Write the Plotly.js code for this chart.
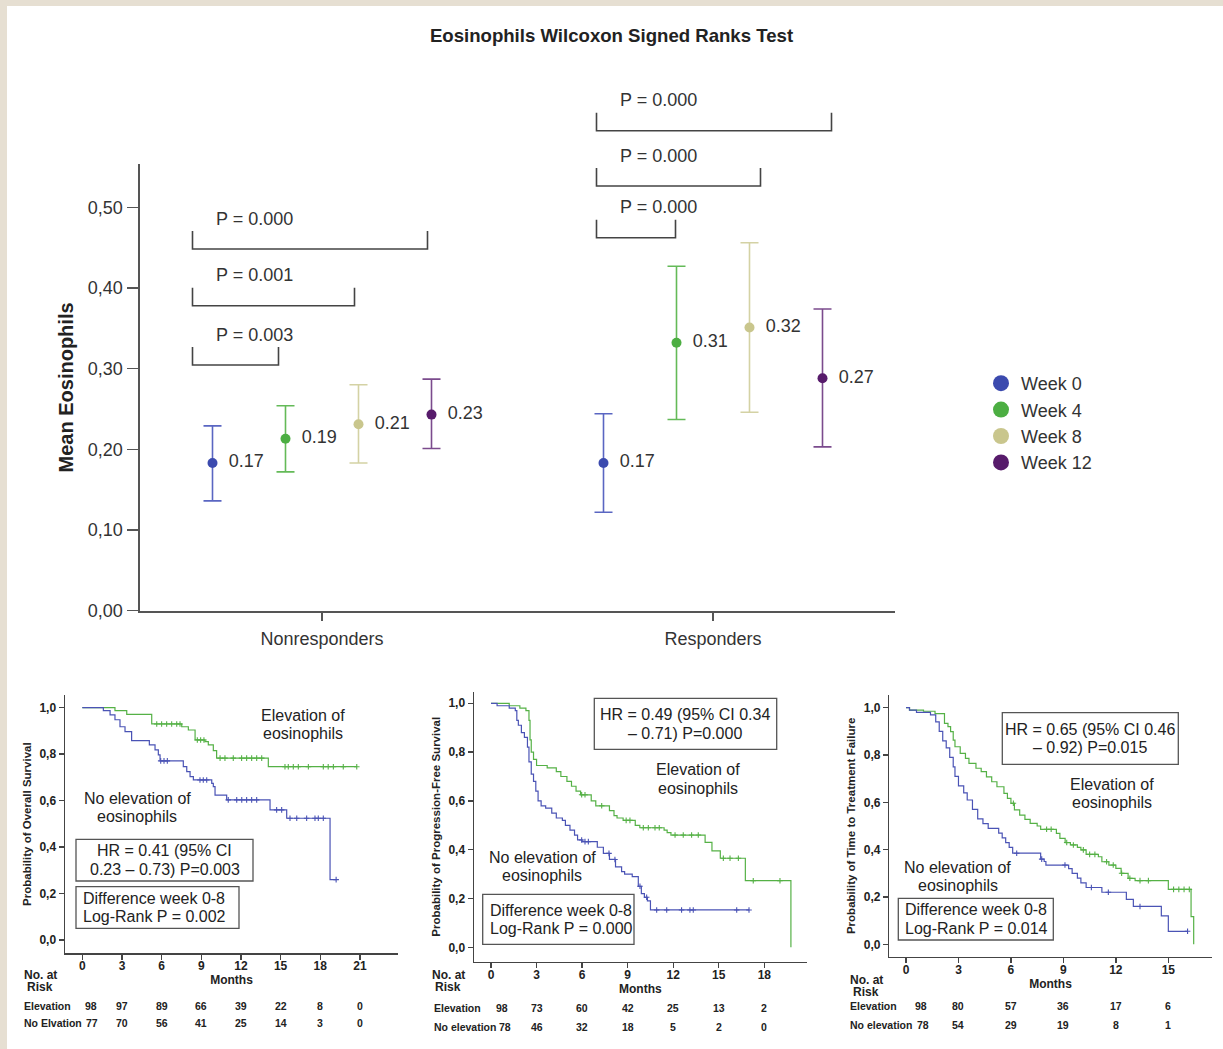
<!DOCTYPE html>
<html>
<head>
<meta charset="utf-8">
<script src="https://cdn.plot.ly/plotly-3.0.1.min.js"></script>
<style>
html, body { margin: 0; padding: 0; background: #ffffff; }
#chart { width: 1223px; height: 1049px; }
</style>
</head>
<body>
<div id="chart"></div>
<script>
// ===================== DATA =====================
// Top chart: mean eosinophils with 95% CI
const groups = ['Nonresponders', 'Responders'];
const weeks = ['Week 0', 'Week 4', 'Week 8', 'Week 12'];
const meanNonresp  = [0.183, 0.213, 0.231, 0.243];
const lowerNonresp = [0.136, 0.172, 0.183, 0.201];
const upperNonresp = [0.229, 0.254, 0.280, 0.287];
const meanResp     = [0.183, 0.332, 0.351, 0.288];
const lowerResp    = [0.122, 0.237, 0.246, 0.203];
const upperResp    = [0.244, 0.427, 0.456, 0.374];
const labelNonresp = ['0.17', '0.19', '0.21', '0.23'];
const labelResp    = ['0.17', '0.31', '0.32', '0.27'];
// Wilcoxon p-values, week 0 vs week 4 / 8 / 12
const pNonresp = ['P = 0.003', 'P = 0.001', 'P = 0.000'];
const pResp    = ['P = 0.000', 'P = 0.000', 'P = 0.000'];
const meanTickVals = [0, 0.1, 0.2, 0.3, 0.4, 0.5];
const meanTickText = ['0,00', '0,10', '0,20', '0,30', '0,40', '0,50'];

// Kaplan-Meier: Overall survival
const osElevT = [0, 2.47, 3.36, 5.25, 7.52, 8.02, 8.53, 9.28, 9.53, 9.91, 10.16, 14.07, 20.76];
const osElevS = [1.0, 0.987, 0.971, 0.93, 0.918, 0.904, 0.861, 0.854, 0.84, 0.815, 0.783, 0.746, 0.746];
const osElevCens = [5.63, 6.0, 6.38, 6.76, 7.14, 7.39, 8.7, 8.95, 9.2, 10.42, 10.79, 11.42, 12.05, 12.43, 12.81, 13.19, 13.57, 15.33, 15.58, 15.96, 16.34, 17.1, 18.23, 18.6, 18.99, 19.74, 20.76];
const osNoT = [0, 1.59, 2.10, 2.47, 2.85, 3.23, 3.73, 5.07, 5.50, 5.75, 5.88, 7.64, 7.90, 8.15, 8.40, 9.79, 9.91, 10.04, 10.92, 14.20, 15.46, 18.74, 19.2];
const osNoS = [1.0, 0.987, 0.969, 0.948, 0.918, 0.897, 0.858, 0.84, 0.818, 0.797, 0.771, 0.746, 0.725, 0.703, 0.689, 0.674, 0.66, 0.624, 0.603, 0.56, 0.524, 0.26, 0.26];
const osNoCens = [5.93, 6.18, 6.43, 8.9, 9.15, 9.41, 11.04, 11.68, 12.06, 12.43, 12.81, 13.19, 14.7, 15.08, 15.71, 16.22, 16.97, 17.6, 17.85, 18.23, 19.2];

// Kaplan-Meier: Progression-free survival
const pfsElevT = [0, 1.2, 1.9, 2.3, 2.5, 2.57, 2.65, 2.8, 3.0, 3.7, 4.3, 4.6, 5.0, 5.3, 5.6, 5.9, 6.6, 6.9, 7.8, 8.1, 8.3, 8.7, 9.5, 9.8, 11.4, 11.6, 11.85, 14.1, 14.55, 15.1, 16.75, 19.75];
const pfsElevS = [1.0, 0.99, 0.98, 0.97, 0.93, 0.85, 0.80, 0.77, 0.745, 0.735, 0.72, 0.70, 0.68, 0.66, 0.64, 0.625, 0.60, 0.58, 0.56, 0.54, 0.53, 0.52, 0.50, 0.49, 0.48, 0.47, 0.46, 0.43, 0.395, 0.365, 0.273, 0.0];
const pfsElevCens = [5.97, 6.19, 7.29, 8.9, 9.15, 10.03, 10.36, 10.8, 11.08, 12.12, 12.66, 13.21, 13.65, 15.3, 15.74, 16.29, 17.27, 19.03];
const pfsNoT = [0, 0.4, 1.2, 1.6, 1.7, 1.8, 2.0, 2.2, 2.4, 2.5, 2.65, 2.8, 2.95, 3.1, 3.3, 3.6, 4.0, 4.3, 4.7, 4.9, 5.2, 5.5, 5.7, 6.0, 7.0, 7.4, 7.8, 8.2, 8.6, 8.8, 9.3, 9.7, 9.9, 10.1, 10.3, 10.5, 17.0];
const pfsNoS = [1.0, 0.99, 0.98, 0.97, 0.93, 0.91, 0.88, 0.86, 0.82, 0.76, 0.71, 0.68, 0.64, 0.60, 0.58, 0.57, 0.55, 0.53, 0.52, 0.50, 0.48, 0.46, 0.44, 0.433, 0.41, 0.385, 0.36, 0.33, 0.31, 0.30, 0.29, 0.25, 0.22, 0.205, 0.19, 0.153, 0.153];
const pfsNoCens = [5.97, 6.19, 6.41, 7.77, 8.16, 9.81, 10.25, 10.91, 11.57, 12.55, 13.1, 13.32, 16.18, 16.99];

// Kaplan-Meier: Time to treatment failure
const ttfElevT = [0, 0.2, 1.0, 1.66, 2.2, 2.4, 2.55, 2.7, 2.8, 3.1, 3.4, 3.6, 4.0, 4.3, 4.6, 4.9, 5.2, 5.6, 5.8, 6.0, 6.2, 6.5, 6.8, 7.1, 7.5, 7.7, 8.6, 8.8, 9.1, 9.4, 9.8, 10.0, 10.3, 11.0, 11.2, 11.6, 12.0, 12.3, 12.7, 13.1, 15.0, 16.3, 16.45];
const ttfElevS = [1.0, 0.99, 0.985, 0.975, 0.934, 0.92, 0.899, 0.863, 0.835, 0.807, 0.786, 0.765, 0.744, 0.73, 0.708, 0.687, 0.666, 0.638, 0.617, 0.596, 0.568, 0.546, 0.528, 0.511, 0.5, 0.486, 0.469, 0.448, 0.43, 0.42, 0.41, 0.399, 0.38, 0.37, 0.349, 0.335, 0.321, 0.30, 0.279, 0.269, 0.232, 0.117, 0.0];
const ttfElevCens = [6.14, 8.04, 8.3, 9.19, 9.57, 10.14, 10.5, 10.8, 11.47, 11.85, 12.33, 12.8, 13.38, 13.86, 15.3, 15.6, 15.9, 16.2];
const ttfNoT = [0, 0.2, 0.6, 1.4, 1.7, 1.9, 2.1, 2.3, 2.5, 2.7, 2.8, 3.0, 3.3, 3.5, 3.8, 4.1, 4.4, 4.7, 5.3, 5.5, 5.7, 5.9, 6.1, 7.7, 7.9, 8.0, 9.3, 9.5, 9.8, 10.0, 10.3, 11.2, 12.6, 13.0, 14.6, 15.0, 16.1];
const ttfNoS = [1.0, 0.99, 0.98, 0.97, 0.94, 0.90, 0.86, 0.83, 0.79, 0.75, 0.71, 0.67, 0.64, 0.61, 0.57, 0.53, 0.51, 0.49, 0.47, 0.45, 0.43, 0.41, 0.385, 0.36, 0.35, 0.335, 0.32, 0.30, 0.28, 0.26, 0.24, 0.22, 0.19, 0.16, 0.12, 0.055, 0.055];
const ttfNoCens = [6.33, 7.76, 9.09, 10.6, 11.57, 13.38, 16.1];

const kmTickVals = [0, 0.2, 0.4, 0.6, 0.8, 1.0];
const kmTickText = ['0,0', '0,2', '0,4', '0,6', '0,8', '1,0'];

// Numbers at risk
const osRiskMonths = [0, 3, 6, 9, 12, 15, 18, 21];
const osRiskElev   = [98, 97, 89, 66, 39, 22, 8, 0];
const osRiskNo     = [77, 70, 56, 41, 25, 14, 3, 0];
const pfsRiskMonths = [0, 3, 6, 9, 12, 15, 18];
const pfsRiskElev   = [98, 73, 60, 42, 25, 13, 2];
const pfsRiskNo     = [78, 46, 32, 18, 5, 2, 0];
const ttfRiskMonths = [0, 3, 6, 9, 12, 15];
const ttfRiskElev   = [98, 80, 57, 36, 17, 6];
const ttfRiskNo     = [78, 54, 29, 19, 8, 1];

// Texts
const osTexts  = { ylab: 'Probability of Overall Survival', hr: ['HR = 0.41 (95% CI', '0.23 – 0.73) P=0.003'], lr: ['Difference week 0-8', 'Log-Rank P = 0.002'], rows: ['Elevation', 'No Elvation'] };
const pfsTexts = { ylab: 'Probability of Progression-Free Survival', hr: ['HR = 0.49 (95% CI 0.34', '– 0.71) P=0.000'], lr: ['Difference week 0-8', 'Log-Rank P = 0.000'], rows: ['Elevation', 'No elevation'] };
const ttfTexts = { ylab: 'Probability of Time to Treatment Failure', hr: ['HR = 0.65 (95% CI 0.46', '– 0.92) P=0.015'], lr: ['Difference week 0-8', 'Log-Rank P = 0.014'], rows: ['Elevation', 'No elevation'] };
const elevLabel = ['Elevation of', 'eosinophils'];
const noElevLabel = ['No elevation of', 'eosinophils'];

// ===================== LAYOUT HELPERS =====================
const W = 1223, H = 1049;
const X = px => px / W;
const Y = py => 1 - py / H;
const FONT = 'Liberation Sans, Arial, Helvetica, sans-serif';
const TXT = '#333333';
const weekColors = ['#3b4aae', '#4cae42', '#c9c68d', '#571b6b'];
const barColors  = ['#5a66c2', '#64ba58', '#d4d2a4', '#7b4b8d'];
const GREEN = '#55b146', BLUE = '#4a53b5';
const PXU = 391;            // pixels per category unit on the top x-axis
const DODGE = 73 / PXU;     // spacing between weeks inside a group
const LS = 18.5;            // line spacing of two-line notes
const NOTE = 16;            // note font size

const traces = [];
const shapes = [];
const annotations = [];

// ---------- top chart ----------
weeks.forEach((wk, w) => {
  const ys = [meanNonresp[w], meanResp[w]];
  const up = [upperNonresp[w], upperResp[w]];
  const lo = [lowerNonresp[w], lowerResp[w]];
  traces.push({
    type: 'scatter', mode: 'markers+text', xaxis: 'x', yaxis: 'y',
    name: wk, legendgroup: wk, showlegend: false,
    x: groups.map((g, i) => i + (w - 1.5) * DODGE),
    y: ys,
    text: [labelNonresp[w], labelResp[w]].map(s => '\u2002' + s),
    textposition: 'middle right',
    textfont: { family: FONT, size: 18, color: TXT },
    marker: { size: 10, color: weekColors[w] },
    error_y: {
      type: 'data', symmetric: false,
      array: up.map((u, i) => u - ys[i]),
      arrayminus: lo.map((l, i) => ys[i] - l),
      color: barColors[w], thickness: 1.6, width: 9
    },
    cliponaxis: false, hoverinfo: 'skip'
  });
});
weeks.forEach((wk, w) => {
  traces.push({
    type: 'scatter', mode: 'markers', xaxis: 'x', yaxis: 'y',
    name: wk, legendgroup: wk, x: [null], y: [null],
    marker: { size: 18, color: weekColors[w] }, hoverinfo: 'skip'
  });
});

// significance brackets (pixel layout positions, x anchored on the week positions)
const bracketLine = [[365, 305.7, 249], [237.7, 186, 130.7]];
const bracketLeftNudge = [-20, -7];
const bracketRightNudge = [[-7, -4, -4], [-1, 11, 9]];
[pNonresp, pResp].forEach((pArr, g) => {
  pArr.forEach((p, k) => {
    const xl = g + (0 - 1.5) * DODGE + bracketLeftNudge[g] / PXU;
    const xr = g + (k + 1 - 1.5) * DODGE + bracketRightNudge[g][k] / PXU;
    const yl = Y(bracketLine[g][k]);
    const yt = Y(bracketLine[g][k] - 18);
    shapes.push({
      type: 'path', xref: 'x', yref: 'paper',
      path: `M ${xl},${yt} L ${xl},${yl} L ${xr},${yl} L ${xr},${yt}`,
      line: { color: '#444', width: 1.6 }
    });
    annotations.push({
      xref: 'x', yref: 'paper', x: xl + 62 / PXU, y: Y(bracketLine[g][k] - 30.5),
      text: p, showarrow: false, xanchor: 'center', yanchor: 'middle',
      font: { family: FONT, size: 18, color: TXT }
    });
  });
});

// ---------- KM panels ----------
function stepAt(t, s, time) {
  let v = s[0];
  for (let i = 0; i < t.length; i++) if (t[i] <= time) v = s[i];
  return v;
}
function addKM(t, s, cens, color, xa, ya, name) {
  traces.push({
    type: 'scatter', mode: 'lines', x: t, y: s, xaxis: xa, yaxis: ya,
    line: { shape: 'hv', color: color, width: 1.2 }, name: name,
    showlegend: false, hoverinfo: 'skip'
  });
  traces.push({
    type: 'scatter', mode: 'markers', x: cens, y: cens.map(c => stepAt(t, s, c)),
    xaxis: xa, yaxis: ya, name: name + ' censored', showlegend: false,
    marker: { symbol: 'cross-thin-open', size: 4, color: color, line: { width: 1.1, color: color } },
    hoverinfo: 'skip'
  });
}
addKM(osElevT, osElevS, osElevCens, GREEN, 'x2', 'y2', 'Elevation');
addKM(osNoT, osNoS, osNoCens, BLUE, 'x2', 'y2', 'No elevation');
addKM(pfsElevT, pfsElevS, pfsElevCens, GREEN, 'x3', 'y3', 'Elevation');
addKM(pfsNoT, pfsNoS, pfsNoCens, BLUE, 'x3', 'y3', 'No elevation');
addKM(ttfElevT, ttfElevS, ttfElevCens, GREEN, 'x4', 'y4', 'Elevation');
addKM(ttfNoT, ttfNoS, ttfNoCens, BLUE, 'x4', 'y4', 'No elevation');

function textLine(px, py, text, size, anchor, weight) {
  annotations.push({
    xref: 'paper', yref: 'paper', x: X(px), y: Y(py), text: text, showarrow: false,
    xanchor: anchor || 'center', yanchor: 'middle',
    font: { family: FONT, size: size, color: '#222', weight: weight || 400 }
  });
}
function box(x0, y0, x1, y1) {
  shapes.push({ type: 'rect', xref: 'paper', yref: 'paper', x0: X(x0), x1: X(x1), y0: Y(y1), y1: Y(y0),
    line: { color: '#555', width: 1.3 }, fillcolor: 'rgba(0,0,0,0)' });
}
function twoLines(cx, cy, lines, anchor) {
  textLine(cx, cy - LS / 2, lines[0], NOTE, anchor);
  textLine(cx, cy + LS / 2, lines[1], NOTE, anchor);
}
function panelTexts(P, T) {
  twoLines(P.elev[0], P.elev[1], elevLabel);
  twoLines(P.noel[0], P.noel[1], noElevLabel);
  box(P.hrBox[0], P.hrBox[1], P.hrBox[2], P.hrBox[3]);
  twoLines((P.hrBox[0] + P.hrBox[2]) / 2, (P.hrBox[1] + P.hrBox[3]) / 2, T.hr);
  box(P.lrBox[0], P.lrBox[1], P.lrBox[2], P.lrBox[3]);
  twoLines(P.lrBox[0] + 5, (P.lrBox[1] + P.lrBox[3]) / 2, T.lr, 'left');
  textLine(P.risk[0], P.risk[1], 'No. at', 12, 'center', 700);
  textLine(P.risk[0], P.risk[1] + 12, 'Risk', 12, 'center', 700);
  textLine(P.rows[0], P.rows[1], T.rows[0], 10.5, 'left', 700);
  textLine(P.rows[0], P.rows[2], T.rows[1], 10.5, 'left', 700);
}
function riskRow(months, vals, xa, py, firstShift) {
  months.forEach((m, i) => {
    annotations.push({
      xref: xa, yref: 'paper', x: m, y: Y(py), text: String(vals[i]), showarrow: false,
      xanchor: 'center', yanchor: 'middle', xshift: i === 0 ? firstShift : 0,
      font: { family: FONT, size: 10.5, color: '#222', weight: 700 }
    });
  });
}

panelTexts({ elev: [303, 724.5], noel: [137, 807.5], hrBox: [76, 839.3, 253, 881],
  lrBox: [76, 886.7, 239, 928.3], risk: [40, 975], rows: [22, 1005.5, 1023] }, osTexts);
riskRow(osRiskMonths, osRiskElev, 'x2', 1005.5, 9);
riskRow(osRiskMonths, osRiskNo, 'x2', 1023, 10);

panelTexts({ elev: [698, 779], noel: [542, 866.7], hrBox: [594.3, 698.3, 776.7, 749.3],
  lrBox: [482.7, 894.3, 634, 944.3], risk: [448.3, 975], rows: [431.7, 1007.7, 1026.7] }, pfsTexts);
riskRow(pfsRiskMonths, pfsRiskElev, 'x3', 1007.7, 11);
riskRow(pfsRiskMonths, pfsRiskNo, 'x3', 1026.7, 14);

panelTexts({ elev: [1111.7, 793.4], noel: [957.7, 876.7], hrBox: [1002.3, 712.7, 1178.3, 764.3],
  lrBox: [898.3, 898.3, 1053.3, 940], risk: [866, 980], rows: [848.3, 1005.7, 1025] }, ttfTexts);
riskRow(ttfRiskMonths, ttfRiskElev, 'x4', 1005.7, 15);
riskRow(ttfRiskMonths, ttfRiskNo, 'x4', 1025, 17);

// beige frame
shapes.push({ type: 'rect', xref: 'paper', yref: 'paper', x0: 0, x1: X(7), y0: 0, y1: 1, fillcolor: '#e6dfd2', line: { width: 0 }, layer: 'below' });
shapes.push({ type: 'rect', xref: 'paper', yref: 'paper', x0: 0, x1: 1, y0: Y(6), y1: 1, fillcolor: '#e6dfd2', line: { width: 0 }, layer: 'below' });

// ---------- axes ----------
function kmX(domainPx, range, tickvals, anchor) {
  return {
    domain: [X(domainPx[0]), X(domainPx[1])], range: range, anchor: anchor,
    tickvals: tickvals, ticktext: tickvals.map(String),
    showline: true, linecolor: '#444', linewidth: 1.5, mirror: false,
    ticks: 'outside', ticklen: 5, tickwidth: 1.3, tickcolor: '#444', ticklabelstandoff: -4,
    tickfont: { family: FONT, size: 12, color: '#222', weight: 700 },
    showgrid: false, zeroline: false,
    title: { text: 'Months', font: { family: FONT, size: 12, color: '#222', weight: 700 }, standoff: 0 }
  };
}
function kmY(domainPx, range, anchor, title) {
  return {
    domain: [Y(domainPx[1]), Y(domainPx[0])], range: range, anchor: anchor,
    tickvals: kmTickVals, ticktext: kmTickText,
    showline: true, linecolor: '#444', linewidth: 1.5,
    ticks: 'outside', ticklen: 5, tickwidth: 1.3, tickcolor: '#444',
    tickfont: { family: FONT, size: 12, color: '#222', weight: 700 },
    showgrid: false, zeroline: false,
    title: { text: title, font: { family: FONT, size: 11.5, color: '#222', weight: 700 }, standoff: 5 }
  };
}

const layout = {
  width: W, height: H,
  margin: { l: 0, r: 0, t: 0, b: 0, pad: 0 },
  paper_bgcolor: '#ffffff', plot_bgcolor: 'rgba(0,0,0,0)',
  font: { family: FONT, color: TXT },
  title: {
    text: 'Eosinophils Wilcoxon Signed Ranks Test',
    font: { family: FONT, size: 18.6, color: '#222', weight: 700 },
    x: 0.5, xref: 'paper', xanchor: 'center', y: Y(35), yref: 'paper', yanchor: 'middle'
  },
  showlegend: true,
  legend: {
    x: X(981), y: Y(365), xanchor: 'left', yanchor: 'top',
    font: { family: FONT, size: 18, color: TXT }, bgcolor: 'rgba(0,0,0,0)',
    itemwidth: 30, tracegroupgap: 0
  },
  xaxis: {
    domain: [X(140), X(895)], range: [-(322 - 140) / PXU, (895 - 322) / PXU], anchor: 'y',
    tickvals: groups.map((g, i) => i), ticktext: groups,
    showline: true, linecolor: '#555', linewidth: 2.5,
    ticks: 'outside', ticklen: 8, tickwidth: 1.5, tickcolor: '#555', ticklabelstandoff: 2,
    tickfont: { family: FONT, size: 18, color: TXT },
    showgrid: false, zeroline: false
  },
  yaxis: {
    domain: [Y(610.6), Y(164.3)], range: [0, 446.3 / 806.6], anchor: 'x',
    tickvals: meanTickVals, ticktext: meanTickText,
    showline: true, linecolor: '#555', linewidth: 2.5,
    ticks: 'outside', ticklen: 11, tickwidth: 1.5, tickcolor: '#555',
    tickfont: { family: FONT, size: 18, color: TXT },
    showgrid: false, zeroline: false,
    title: { text: 'Mean Eosinophils', font: { family: FONT, size: 20, color: '#222', weight: 700 }, standoff: 9 }
  },
  xaxis2: kmX([65, 398], [-1.31, 23.88], osRiskMonths, 'y2'),
  yaxis2: kmY([695, 953.3], [-0.0573, 1.0546], 'x2', osTexts.ylab),
  xaxis3: kmX([474, 806.7], [-1.12, 20.79], pfsRiskMonths, 'y3'),
  yaxis3: kmY([691.7, 961.7], [-0.059, 1.0475], 'x3', pfsTexts.ylab),
  xaxis4: kmX([889.3, 1211.7], [-0.955, 17.48], ttfRiskMonths, 'y4'),
  yaxis4: kmY([695, 956.7], [-0.0524, 1.0537], 'x4', ttfTexts.ylab),
  shapes: shapes,
  annotations: annotations
};

Plotly.newPlot('chart', traces, layout, { displayModeBar: false, staticPlot: true });
</script>
</body>
</html>
